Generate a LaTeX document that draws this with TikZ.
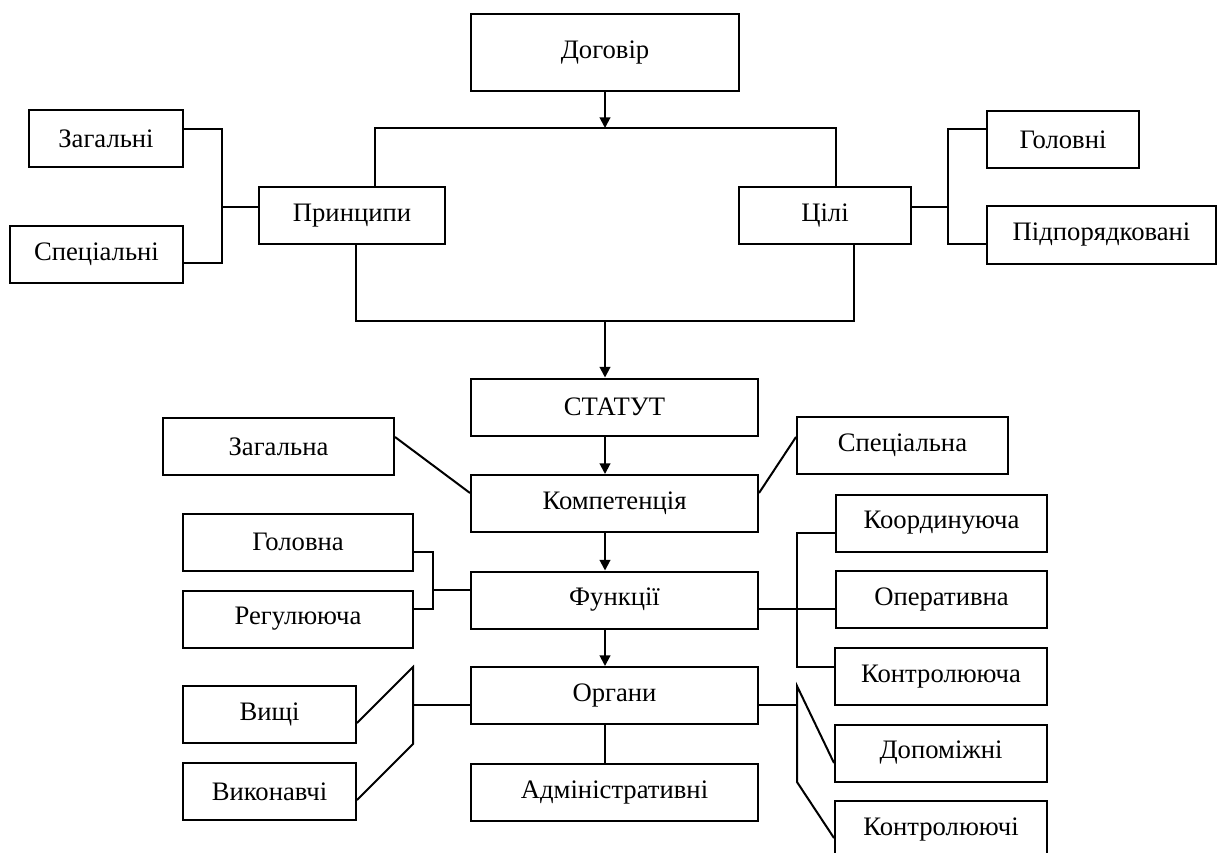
\documentclass[tikz,border=0pt]{standalone}
\usepackage{fontspec}
\setmainfont{Liberation Serif}
\usetikzlibrary{arrows.meta, positioning}

\begin{document}
\begin{tikzpicture}[
        x=0.75pt, y=-0.75pt,
        % boxes
        box/.style={
            rectangle,
            draw,
            line width=1.5pt,
            inner sep=0pt,
            minimum height=57*0.75pt,
            text centered,
            font=\fontsize{20}{23}\selectfont
        },
        boxw/.style={minimum width=#1*0.75pt},
        link/.style={line width=1.5pt},
        arr/.style={
            -{Triangle[length=8pt, width=8pt]},
            line width=1.5pt
        }
    ]
    \useasboundingbox (0,0) rectangle (1226,852);

    % --- top part ---
    \node[box, boxw=268, minimum height=77*0.75pt] (dogovir) at (605,52.5) {Договір};
    \node[box, boxw=186] (pryntsypy) at (352,215.5) {Принципи};
    \node[box, boxw=172] (tsili) at (825,215.5) {Цілі};

    \node[box, boxw=154] (zahalni) at (106,139) {Загальні};
    \node[box, boxw=173] (spetsialni) at (96.5,254.5) {Спеціальні};
    \node[box, boxw=152] (holovni) at (1063,139.5) {Головні};
    \node[box, boxw=229] (pidporyadk) at (1101.5,235) {Підпорядковані};

    % --- central column ---
    \node[box, boxw=287] (statut) at (614.5,407) {СТАТУТ};
    \node[box, boxw=287] (kompet) at (614.5,503.5) {Компетенція};
    \node[box, boxw=287] (funktsii) at (614.5,600) {Функції};
    \node[box, boxw=287] (orhany) at (614.5,695.5) {Органи};
    \node[box, boxw=287] (admin) at (614.5,792) {Адміністративні};

    % --- side boxes ---
    \node[box, boxw=231] (zahalna) at (278.5,446.5) {Загальна};
    \node[box, boxw=211] (spetsialna) at (902.5,445.5) {Спеціальна};
    \node[box, boxw=230] (holovna) at (298,542) {Головна};
    \node[box, boxw=230] (rehul) at (298,619) {Регулююча};
    \node[box, boxw=211] (koord) at (941.5,523) {Координуюча};
    \node[box, boxw=211] (operat) at (941.5,599.5) {Оперативна};
    \node[box, boxw=212] (kontrol) at (941,676.5) {Контролююча};
    \node[box, boxw=173] (vyshchi) at (269.5,714.5) {Вищі};
    \node[box, boxw=173] (vykon) at (269.5,791.5) {Виконавчі};
    \node[box, boxw=212] (dopom) at (941,753) {Допоміжні};
    \node[box, boxw=212] (kontrolchi) at (941,829.5) {Контролюючі};

    % --- connectors ---
    \coordinate (joinTop) at (605,128);
    \coordinate (joinBot) at (605,321);

    \draw[arr] (dogovir) -- (joinTop);
    \draw[link] (pryntsypy.north -| 375,0) |- (joinTop) -| (tsili.north -| 836,0);
    \draw[link] (pryntsypy.south -| 356,0) |- (joinBot) -| (tsili.south -| 854,0);
    \draw[arr] (joinBot) -- (statut.north -| joinBot);

    \draw[link] (zahalni.east |- 0,129) -| (222,263) -- (spetsialni.east |- 0,263);
    \draw[link] (222,207) -- (pryntsypy.west |- 0,207);
    \draw[link] (holovni.west |- 0,129) -| (948,244) -- (pidporyadk.west |- 0,244);
    \draw[link] (tsili.east |- 0,207) -- (948,207);

    \draw[arr] (statut.south -| joinBot) -- (kompet.north -| joinBot);
    \draw[arr] (kompet.south -| joinBot) -- (funktsii.north -| joinBot);
    \draw[arr] (funktsii.south -| joinBot) -- (orhany.north -| joinBot);
    \draw[link] (orhany.south -| joinBot) -- (admin.north -| joinBot);

    \draw[link] (zahalna.east |- 0,437) -- (kompet.west |- 0,493);
    \draw[link] (spetsialna.west |- 0,437) -- (kompet.east |- 0,493);

    \draw[link] (holovna.east |- 0,552) -| (433,609) -- (rehul.east |- 0,609);
    \draw[link] (433,590) -- (funktsii.west |- 0,590);
    \draw[link] (koord.west |- 0,533) -| (797,667) -- (kontrol.west |- 0,667);
    \draw[link] (funktsii.east |- 0,609) -- (operat.west |- 0,609);

    \draw[link] (vyshchi.east |- 0,723) -- (413,667) -- (413,744) -- (vykon.east |- 0,800);
    \draw[link] (413,705) -- (orhany.west |- 0,705);
    \draw[link] (dopom.west |- 0,763) -- (797,686) -- (797,782) -- (kontrolchi.west |- 0,838);
    \draw[link] (orhany.east |- 0,705) -- (797,705);

\end{tikzpicture}
\end{document}
